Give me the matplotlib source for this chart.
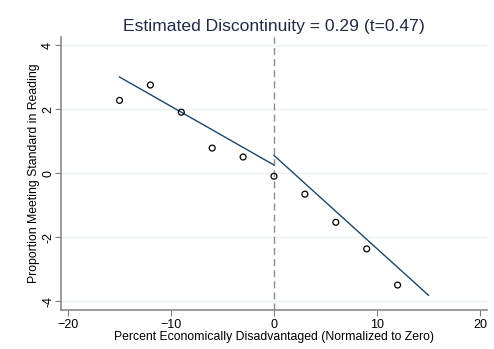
import matplotlib
matplotlib.use("Agg")
import matplotlib.pyplot as plt

plt.rcParams['font.family'] = ['Liberation Sans', 'DejaVu Sans']

bin_x = [-15, -12, -9, -6, -3, 0, 3, 6, 9, 12]
bin_y = [2.27, 2.75, 1.9, 0.78, 0.5, -0.1, -0.66, -1.54, -2.37, -3.5]
fit_left_x = [-15, 0]
fit_left_y = [3.0, 0.25]
fit_right_x = [0, 15]
fit_right_y = [0.55, -3.82]
xticks = [-20, -10, 0, 10, 20]
yticks = [-4, -2, 0, 2, 4]
title = "Estimated Discontinuity = 0.29 (t=0.47)"
xlabel = "Percent Economically Disadvantaged (Normalized to Zero)"
ylabel = "Proportion Meeting Standard in Reading"

fig = plt.figure(figsize=(4.94, 3.49), dpi=100)
ax = fig.add_axes([61/494, 1-310/349, (487-61)/494, (310-37)/349])

ax.set_xlim(-20.68, 20.68)
ax.set_ylim(-4.28, 4.25)
ax.set_xticks(xticks)
ax.set_yticks(yticks)
ax.set_yticklabels([str(t) for t in yticks], rotation=90, va='center')
ax.grid(axis='y', color='#eaf2f3', linewidth=1.0)
ax.set_axisbelow(True)

ax.axvline(0, color='#8c8c8c', linestyle=(0, (5, 3)), linewidth=1.0, zorder=1)
ax.scatter(bin_x, bin_y, s=18, facecolors='none', edgecolors='black', linewidths=0.9, zorder=3)
ax.plot(fit_left_x, fit_left_y, color='#1a476f', linewidth=1.0, zorder=2)
ax.plot(fit_right_x, fit_right_y, color='#1a476f', linewidth=1.0, zorder=2)

for s in ['top', 'right']:
    ax.spines[s].set_visible(False)
for s in ['left', 'bottom']:
    ax.spines[s].set_color('#8a8a8a')
    ax.spines[s].set_linewidth(1.2)
ax.tick_params(axis='both', colors='#7f7f7f', length=4, width=0.8, labelcolor='black', labelsize=9)
ax.tick_params(axis='y', pad=1.0)
ax.tick_params(axis='x', pad=2.5)

ax.set_title(title, fontsize=12.6, color='#1e2a4a', pad=4)
ax.set_xlabel(xlabel, fontsize=8.8, labelpad=0)
ax.set_ylabel(ylabel, fontsize=8.8, labelpad=1.5)

fig.savefig("out.png", dpi=100, facecolor='white')
